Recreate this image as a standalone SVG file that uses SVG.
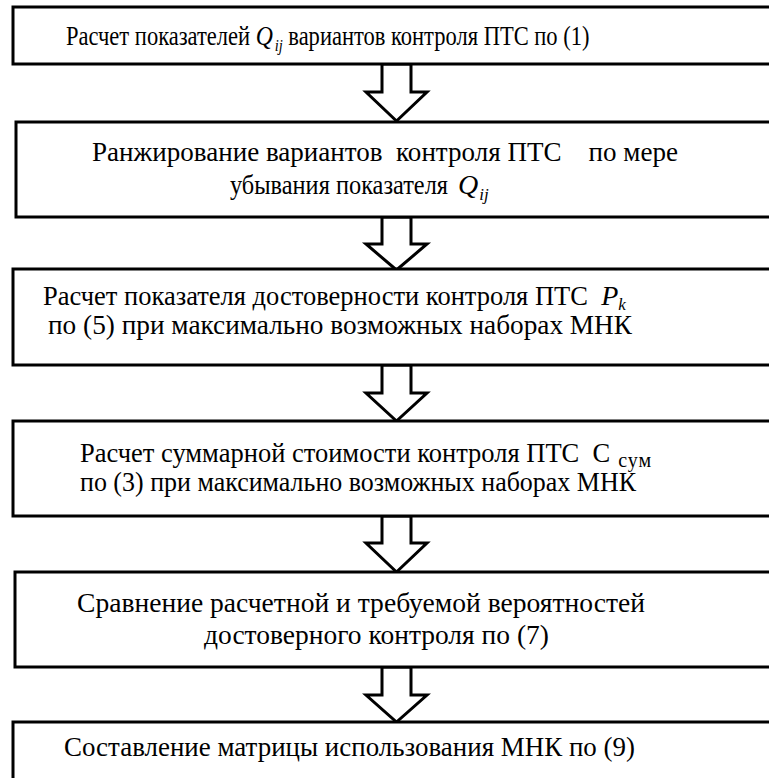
<svg xmlns="http://www.w3.org/2000/svg" width="769" height="778" viewBox="0 0 769 778">
<style>
.box{fill:#fff;stroke:#000;stroke-width:3}
.arr{fill:#fff;stroke:#000;stroke-width:3;stroke-linejoin:miter}
text{font-family:"Liberation Serif","Times New Roman",serif;font-size:26.5px;fill:#000}
.i{font-style:italic}
.big{font-size:28px}
.sub{font-size:17px}
</style>
<rect width="769" height="778" fill="#fff"/>
<g id="connectors">
<polygon class="arr" points="382,64 411,64 411,92 427,92 396.5,121 366,92 382,92"/>
<polygon class="arr" points="382,217 411,217 411,244 427,244 396.5,270 366,244 382,244"/>
<polygon class="arr" points="382,365 411,365 411,393 427,393 396.5,421 366,393 382,393"/>
<polygon class="arr" points="382,516 411,516 411,543 427,543 396.5,572 366,543 382,543"/>
<polygon class="arr" points="382,667 411,667 411,695 427,695 396.5,722 366,695 382,695"/>
</g>
<g id="n1">
<rect class="box" x="13" y="7" width="770" height="57"/>
<g transform="translate(66,45) scale(0.85,1)">
<text x="0" y="0">Расчет показателей <tspan class="i big">Q</tspan><tspan class="i sub" dx="2" dy="6">ij</tspan><tspan dy="-6"> вариантов контроля ПТС по (1)</tspan></text>
</g>
</g>
<g id="n2">
<rect class="box" x="16" y="122" width="770" height="95"/>
<text x="92" y="161" xml:space="preserve" textLength="586" lengthAdjust="spacingAndGlyphs">Ранжирование вариантов  контроля ПТС    по мере</text>
<text x="230" y="194" textLength="218" lengthAdjust="spacingAndGlyphs">убывания показателя</text>
<text x="458" y="194"><tspan class="i big">Q</tspan><tspan class="i sub" dx="1" dy="6">ij</tspan></text>
</g>
<g id="n3">
<rect class="box" x="13" y="269" width="770" height="96"/>
<text x="43" y="305" xml:space="preserve">Расчет показателя достоверности контроля ПТС  <tspan class="i big">P</tspan><tspan class="i sub" dy="5">k</tspan></text>
<text x="48" y="334" textLength="584" lengthAdjust="spacingAndGlyphs">по (5) при максимально возможных наборах МНК</text>
</g>
<g id="n4">
<rect class="box" x="13" y="421" width="770" height="95"/>
<text x="80" y="462" xml:space="preserve">Расчет суммарной стоимости контроля ПТС  С<tspan font-size="20" letter-spacing="1" dx="8" dy="5">сум</tspan></text>
<text x="80" y="491" textLength="556" lengthAdjust="spacingAndGlyphs">по (3) при максимально возможных наборах МНК</text>
</g>
<g id="n5">
<rect class="box" x="15" y="572" width="770" height="95"/>
<text x="77" y="612" textLength="568" lengthAdjust="spacingAndGlyphs">Сравнение расчетной и требуемой вероятностей</text>
<text x="204" y="644" textLength="345" lengthAdjust="spacingAndGlyphs">достоверного контроля по (7)</text>
</g>
<g id="n6">
<rect class="box" x="13" y="722" width="770" height="70"/>
<text x="64" y="756" textLength="571" lengthAdjust="spacingAndGlyphs">Составление матрицы использования МНК по (9)</text>
</g>
</svg>
